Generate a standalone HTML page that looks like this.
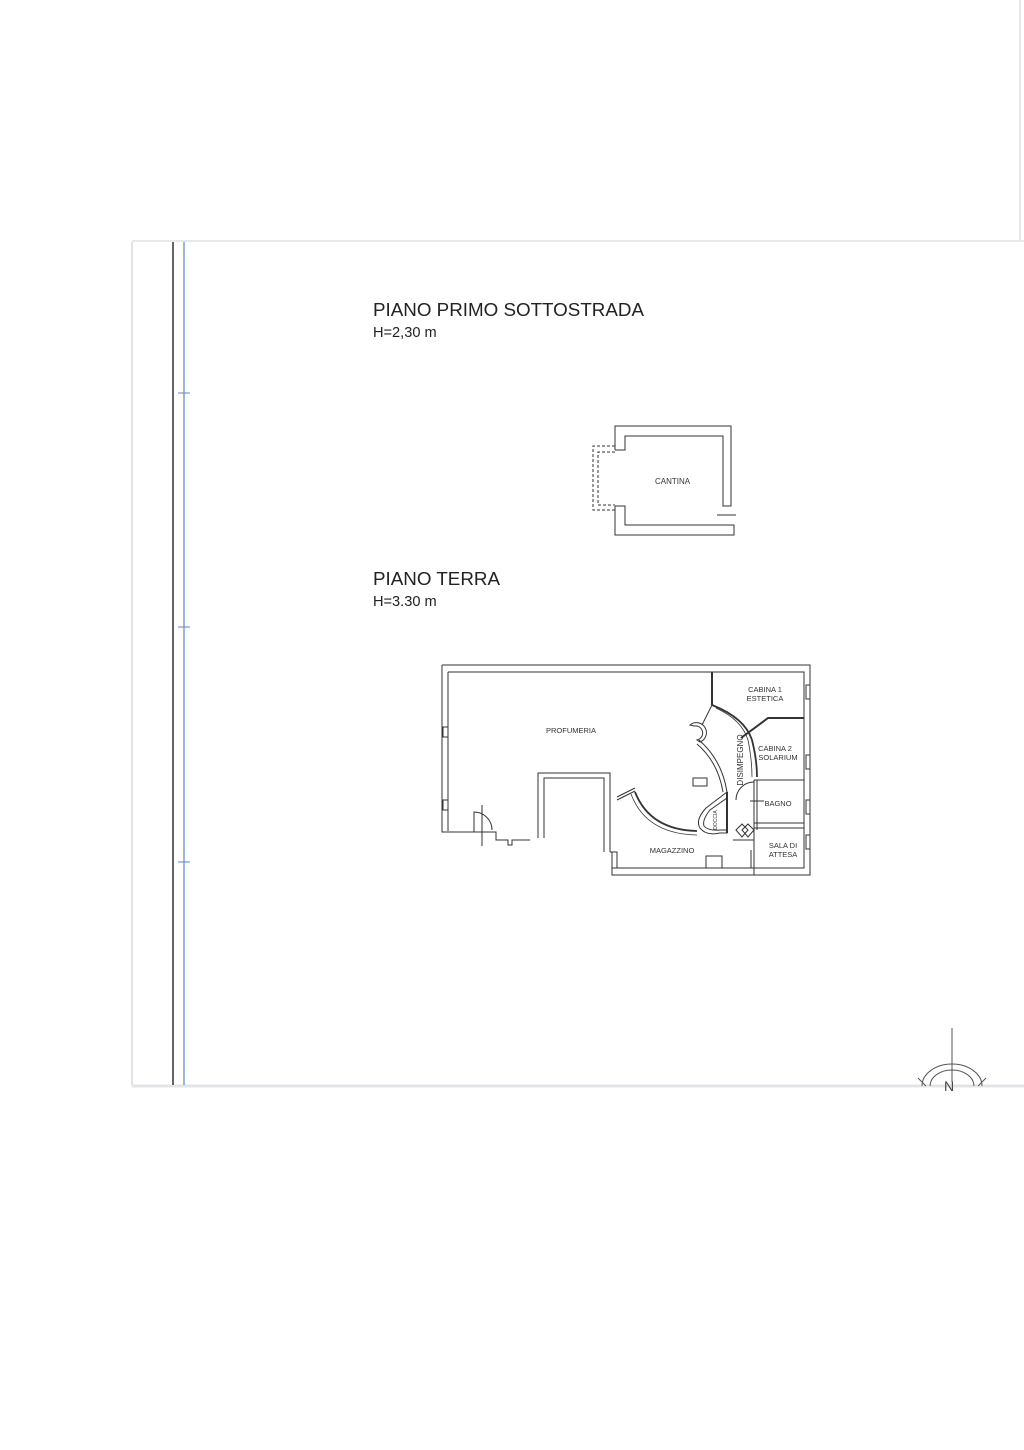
<!DOCTYPE html>
<html><head><meta charset="utf-8"><style>
body{margin:0;background:#fff;}
svg{display:block}
text{font-family:"Liberation Sans",sans-serif;}
</style></head><body>
<svg width="1024" height="1450" viewBox="0 0 1024 1450" xmlns="http://www.w3.org/2000/svg">
<rect width="1024" height="1450" fill="#fff"/>
<line x1="132" y1="241" x2="1024" y2="241" stroke="#e8e8ec" stroke-width="2"/>
<line x1="132" y1="1086" x2="1024" y2="1086" stroke="#e4e4e8" stroke-width="3"/>
<line x1="132" y1="242" x2="132" y2="1085" stroke="#d8d8dc" stroke-width="1.5"/>
<line x1="173" y1="242" x2="173" y2="1085" stroke="#333" stroke-width="1.5"/>
<line x1="184" y1="242" x2="184" y2="1085" stroke="#5a86c8" stroke-width="1.2"/>
<g stroke="#5a86c8" stroke-width="1"><line x1="178" y1="393" x2="190" y2="393"/><line x1="178" y1="627" x2="190" y2="627"/><line x1="178" y1="862" x2="190" y2="862"/></g>
<line x1="1020" y1="0" x2="1020" y2="240" stroke="#ccc" stroke-width="1"/>

<text x="373" y="316" font-size="18.8" fill="#222">PIANO PRIMO SOTTOSTRADA</text>
<text x="373" y="337" font-size="14.6" fill="#222">H=2,30 m</text>
<text x="373" y="585" font-size="18.8" fill="#222">PIANO TERRA</text>
<text x="373" y="606" font-size="14.6" fill="#222">H=3.30 m</text>

<!-- Cantina -->
<g fill="none" stroke="#333" stroke-width="1">
<polyline points="615,450 615,426 731,426 731,506 723,506 723,436 625,436 625,450 615,450"/>
<polyline points="615,506 615,535 734,535 734,525 625,525 625,506 615,506"/>
<line x1="717" y1="515" x2="736" y2="515"/>
<g stroke-dasharray="3,2"><polyline points="615,446 593,446 593,510 615,510"/><polyline points="615,452 598,452 598,505 615,505"/></g>
</g>
<text x="655" y="484" font-size="8" fill="#333">CANTINA</text>

<!-- Piano terra -->
<g fill="none" stroke="#333" stroke-width="1">
<polyline points="442,665 810,665 810,875 612,875 612,852 610,852"/>
<polyline points="448,672 804,672 804,868 617,868 617,852"/>
<polyline points="442,665 442,832 486,832"/>
<line x1="448" y1="672" x2="448" y2="831"/>
<rect x="443" y="727" width="5" height="10"/>
<rect x="443" y="800" width="5" height="10"/>
<polyline points="486,832 496,832 496,840 508,840 508,845 512,845 512,840 530,840"/>
<path d="M474,832 L474,812 A18,18 0 0 1 492,830"/>
<line x1="482" y1="805" x2="482" y2="846"/>
<polyline points="538,838 538,773 610,773 610,852"/>
<polyline points="544,838 544,778 604,778 604,852"/>
<rect x="612" y="852" width="5" height="16"/>
<!-- interior partition -->
<polyline points="712,672 712,705" stroke-width="2"/>
<path d="M712,705 Q745,718 752,740 Q757,760 757,777" stroke-width="1.8"/>
<path d="M716,708 Q742,720 748,740 Q752,760 752,777" stroke-width="0.8"/>
<polyline points="741,738 768,718 804,718" stroke-width="2"/>
<line x1="712" y1="705" x2="702" y2="725"/>
<line x1="754" y1="780" x2="804" y2="780"/>
<line x1="754" y1="823" x2="804" y2="823"/>
<line x1="754" y1="828" x2="804" y2="828"/>
<line x1="754" y1="780" x2="754" y2="875"/>
<line x1="757" y1="780" x2="757" y2="830"/>
<path d="M736,800 A18,18 0 0 1 754,782"/>
<line x1="750" y1="801" x2="764" y2="801"/>
<!-- thin double arc from C to doccia -->
<path d="M699,740 Q722,760 727,792"/>
<path d="M697,744 Q718,762 723,792"/>
<path d="M700,742 A10,10 0 1 0 690,725 L694,726 A6,6 0 1 1 697,740 Z"/>
<path d="M635,792 Q650,830 697,831" stroke-width="1.8"/>
<path d="M631,794 Q646,834 697,835" stroke-width="0.8"/>
<line x1="617" y1="797" x2="635" y2="788"/>
<line x1="617" y1="800" x2="635" y2="791"/>
<!-- doccia -->
<path d="M727,792 L706,808 Q695,820 700,828 Q706,836 720,833 L727,833 Z"/>
<path d="M727,798 L710,810 Q702,820 704,826 Q708,831 720,830 L727,830"/>
<line x1="727" y1="792" x2="727" y2="833" stroke-width="2"/>
<rect x="693" y="778" width="14" height="8"/>
<!-- door diamonds -->
<path d="M736,830 L742,824 L748,830 L742,837 Z M742,830 L748,824 L754,830 L748,837 Z"/>
<line x1="733" y1="840" x2="754" y2="840"/>
<line x1="751" y1="850" x2="751" y2="868"/>
<polyline points="706,868 706,856 722,856 722,868"/>
<rect x="806" y="685" width="4" height="14"/>
<rect x="806" y="755" width="4" height="14"/>
<rect x="806" y="800" width="4" height="14"/>
<rect x="806" y="835" width="4" height="14"/>
</g>
<g font-size="7.5" fill="#333" text-anchor="middle">
<text x="765" y="692">CABINA 1</text><text x="765" y="701">ESTETICA</text>
<text x="571" y="733">PROFUMERIA</text>
<text x="775" y="751">CABINA 2</text><text x="778" y="760">SOLARIUM</text>
<text x="778" y="806">BAGNO</text>
<text x="783" y="848">SALA DI</text><text x="783" y="857">ATTESA</text>
<text x="672" y="853">MAGAZZINO</text>
<text transform="translate(743,760) rotate(-90)" font-size="8">DISIMPEGNO</text>
<text transform="translate(717,820) rotate(-90)" font-size="5">DOCCIA</text>
</g>

<!-- compass -->
<g fill="none" stroke="#555" stroke-width="1">
<line x1="952" y1="1028" x2="952" y2="1082"/>
<path d="M922,1086 A30,22 0 0 1 982,1086"/>
<path d="M930,1086 A22,16 0 0 1 974,1086"/>
<line x1="918" y1="1078" x2="926" y2="1086"/><line x1="986" y1="1078" x2="978" y2="1086"/>
</g>
<text x="944" y="1091" font-family="Liberation Serif" font-size="14" fill="#444">N</text>
</svg>
</body></html>
